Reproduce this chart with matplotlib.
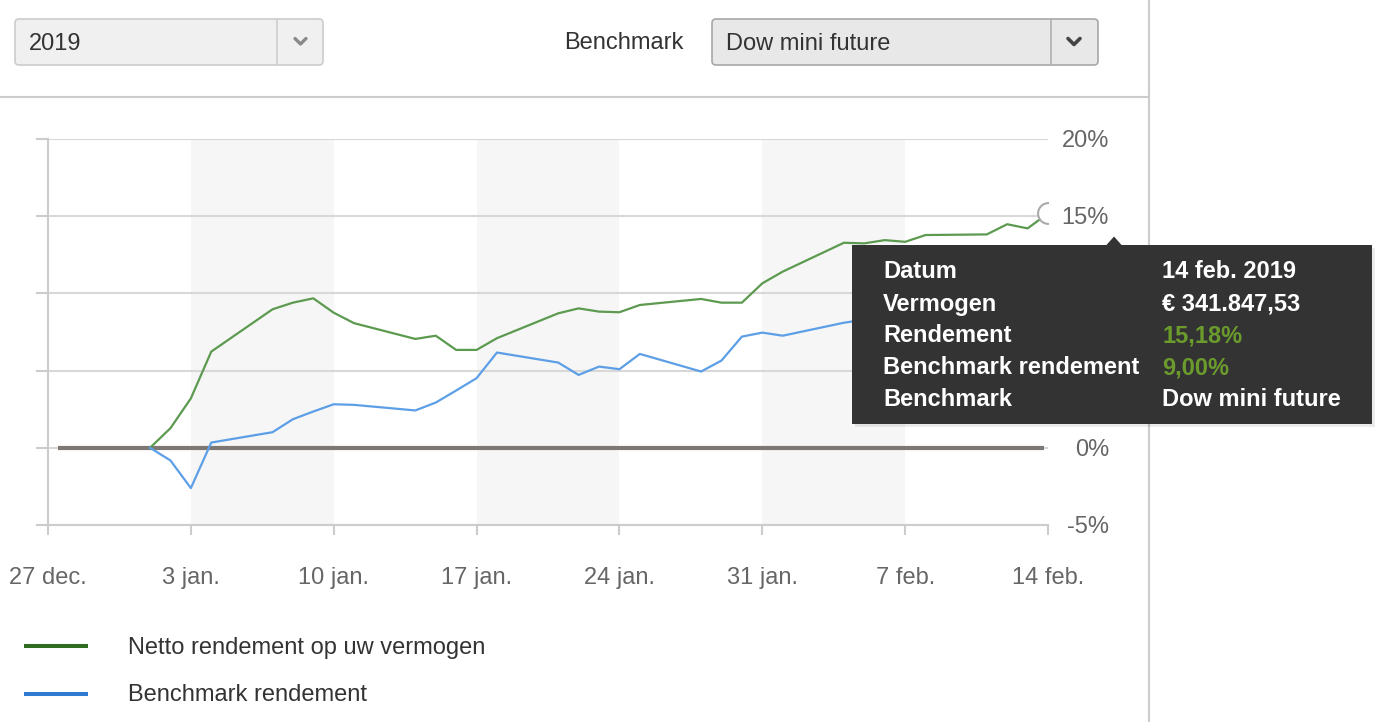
import matplotlib
matplotlib.use("Agg")
import matplotlib.pyplot as plt
import matplotlib.dates as mdates
import matplotlib.transforms as mtransforms
from matplotlib.patches import FancyBboxPatch, Rectangle, Polygon
import numpy as np

plt.rcParams['font.family'] = ['Liberation Sans', 'DejaVu Sans']

# ---------------- data ----------------
dates = ["2019-01-01", "2019-01-02", "2019-01-03", "2019-01-04", "2019-01-07", "2019-01-08",
         "2019-01-09", "2019-01-10", "2019-01-11", "2019-01-14", "2019-01-15", "2019-01-16",
         "2019-01-17", "2019-01-18", "2019-01-21", "2019-01-22", "2019-01-23", "2019-01-24",
         "2019-01-25", "2019-01-28", "2019-01-29", "2019-01-30", "2019-01-31", "2019-02-01",
         "2019-02-04", "2019-02-05", "2019-02-06", "2019-02-07", "2019-02-08", "2019-02-11",
         "2019-02-12", "2019-02-13", "2019-02-14"]
netto_rendement = [0.0, 1.27, 3.2, 6.23, 8.97, 9.40,
                   9.68, 8.75, 8.07, 7.05, 7.26, 6.34,
                   6.34, 7.10, 8.71, 9.03, 8.82, 8.78,
                   9.25, 9.64, 9.40, 9.40, 10.65, 11.41,
                   13.28, 13.24, 13.45, 13.34, 13.78, 13.82,
                   14.48, 14.21, 15.18]
benchmark_rendement = [0.0, -0.82, -2.61, 0.34, 1.01, 1.85,
                       2.35, 2.82, 2.78, 2.42, 2.93, 3.71,
                       4.51, 6.17, 5.52, 4.72, 5.26, 5.09,
                       6.08, 4.94, 5.65, 7.20, 7.46, 7.26,
                       8.10, 8.30, 8.50, 8.40, 8.20, 8.40,
                       8.80, 8.70, 9.00]

x_tick_dates = ["2018-12-27", "2019-01-03", "2019-01-10", "2019-01-17",
                "2019-01-24", "2019-01-31", "2019-02-07", "2019-02-14"]
x_tick_labels = ["27 dec.", "3 jan.", "10 jan.", "17 jan.", "24 jan.", "31 jan.", "7 feb.", "14 feb."]
y_ticks = [-5, 0, 5, 10, 15, 20]
y_tick_labels = ["-5%", "0%", "5%", "10%", "15%", "20%"]
band_starts = ["2019-01-03", "2019-01-17", "2019-01-31"]
band_ends = ["2019-01-10", "2019-01-24", "2019-02-07"]
baseline_range = ["2018-12-27 12:00", "2019-02-13 19:00"]

legend_labels = ["Netto rendement op uw vermogen", "Benchmark rendement"]
tooltip_labels = ["Datum", "Vermogen", "Rendement", "Benchmark rendement", "Benchmark"]
tooltip_values = ["14 feb. 2019", "\u20ac 341.847,53", "15,18%", "9,00%", "Dow mini future"]
year_choice = "2019"
benchmark_choice = "Dow mini future"

# ---------------- colours ----------------
C_GREEN = "#5c9a50"
C_BLUE = "#5d9fe6"
C_LEG_GREEN = "#2f6b20"
C_LEG_BLUE = "#2f7bd2"
C_GRID = "#d8d8d8"
C_AXIS = "#cccccc"
C_LABEL = "#666666"
C_TEXT = "#333333"
C_VAL_GREEN = "#6b9b2c"

W, H = 1386, 722
FS = 17

def d(s):
    return mdates.date2num(np.datetime64(s))

xd = [d(s) for s in dates]

fig = plt.figure(figsize=(W / 100, H / 100), dpi=100)
fig.patch.set_facecolor("white")

# UI layer (pixel coordinates)
ui = fig.add_axes([0, 0, 1, 1], zorder=0)
ui.set_xlim(0, W)
ui.set_ylim(H, 0)
ui.axis("off")

# chart axes
left, right, top, bottom = 48, 1048, 139, 525
ax = fig.add_axes([left / W, (H - bottom) / H, (right - left) / W, (bottom - top) / H], zorder=1)
ax.patch.set_visible(False)
ax.set_xlim(d(x_tick_dates[0]), d(x_tick_dates[-1]))
ax.set_ylim(-5, 20)

for s, e in zip(band_starts, band_ends):
    ax.axvspan(d(s), d(e), color="#f6f6f6", zorder=0, lw=0)

ax.set_yticks(y_ticks)
ax.grid(axis="y", color=C_GRID, lw=1.5, zorder=1)
ax.set_axisbelow(True)

for sp in ["top", "right"]:
    ax.spines[sp].set_visible(False)
for sp in ["left", "bottom"]:
    ax.spines[sp].set_color(C_AXIS)
    ax.spines[sp].set_linewidth(1.5)

ax.tick_params(axis="y", left=True, right=False, labelleft=False, labelright=False,
               length=8.6, width=1.5, color=C_AXIS, direction="out")
ax.set_xticks([d(s) for s in x_tick_dates])
ax.set_xticklabels(x_tick_labels)
ax.tick_params(axis="x", length=7.5, width=1.5, color=C_AXIS, direction="out",
               labelsize=FS, labelcolor=C_LABEL, pad=22.5)

# tooltip box extent (pixels)
TT_X, TT_Y, TT_W, TT_H = 852, 245, 520, 179

# y labels on the right, right aligned (those under the tooltip are hidden by it)
ytrans = mtransforms.blended_transform_factory(fig.transFigure, ax.transData)
ytrans = ytrans + mtransforms.ScaledTranslation(0, -2 / 100, fig.dpi_scale_trans)
for v, lab in zip(y_ticks, y_tick_labels):
    ypix = H - ax.transData.transform((0, v))[1]
    if TT_Y - 5 < ypix < TT_Y + TT_H + 5:
        continue
    ax.text(1109 / W, v, lab, transform=ytrans, ha="right", va="center",
            fontsize=FS, color=C_LABEL, clip_on=False)

# zero baseline
ax.plot([d(baseline_range[0]), d(baseline_range[1])], [0, 0], color="#7d7874", lw=3.0,
        solid_capstyle="butt", zorder=2)

# series
ax.plot(xd, netto_rendement, color=C_GREEN, lw=1.6, zorder=3)
ax.plot(xd, benchmark_rendement, color=C_BLUE, lw=1.6, zorder=3)

# hover marker on last point
ax.plot([xd[-1]], [netto_rendement[-1]], "o", ms=15, mfc="white", mec="#aaaaaa", mew=1.5,
        zorder=4, clip_on=True)

# ---------------- UI elements ----------------
ui.plot([0, 1148], [97, 97], color=C_AXIS, lw=1.5)
ui.plot([1149, 1149], [0, H], color=C_AXIS, lw=1.5)

# dropdown 1
ui.add_patch(FancyBboxPatch((15, 19), 308, 46, boxstyle="round,pad=0,rounding_size=4",
                            fc="#f0f0f0", ec="#cccccc", lw=1.2))
ui.plot([277, 277], [19, 65], color="#cccccc", lw=1.2)
ui.plot([295, 300.5, 306], [38.5, 44, 38.5], color="#8a8a8a", lw=2.4, solid_capstyle="round")
ui.text(29, 44, year_choice, fontsize=FS, color=C_TEXT, va="center", ha="left")

ui.text(564, 43, "Benchmark", fontsize=FS, color=C_TEXT, va="center", ha="left")

# dropdown 2
ui.add_patch(FancyBboxPatch((712, 19), 386, 46, boxstyle="round,pad=0,rounding_size=4",
                            fc="#e8e8e8", ec="#a8a8a8", lw=1.2))
ui.plot([1051, 1051], [19, 65], color="#b0b0b0", lw=1.2)
ui.plot([1068, 1074, 1080], [38.5, 44.5, 38.5], color="#444444", lw=2.6, solid_capstyle="round")
ui.text(726, 44, benchmark_choice, fontsize=FS, color=C_TEXT, va="center", ha="left")

# legend
ui.plot([24, 88], [646, 646], color=C_LEG_GREEN, lw=2.9, solid_capstyle="butt")
ui.plot([24, 88], [694, 694], color=C_LEG_BLUE, lw=2.9, solid_capstyle="butt")
ui.text(128, 648, legend_labels[0], fontsize=FS, color=C_TEXT, va="center", ha="left")
ui.text(128, 695, legend_labels[1], fontsize=FS, color=C_TEXT, va="center", ha="left")

# tooltip layer
tt = fig.add_axes([0, 0, 1, 1], zorder=5)
tt.set_xlim(0, W)
tt.set_ylim(H, 0)
tt.axis("off")
tt.add_patch(Rectangle((TT_X + 3, TT_Y + 3), TT_W, TT_H, fc="black", alpha=0.08, lw=0))
tt.add_patch(Rectangle((TT_X, TT_Y), TT_W, TT_H, fc="#333333", lw=0))
tt.add_patch(Polygon([(1106, 245.5), (1114, 236.5), (1122, 245.5)], closed=True, fc="#333333", lw=0))
row_y = [272, 304, 336, 368, 399.5]
val_colors = ["white", "white", C_VAL_GREEN, C_VAL_GREEN, "white"]
for yy, lab, val, vc in zip(row_y, tooltip_labels, tooltip_values, val_colors):
    tt.text(883, yy, lab, fontsize=FS, fontweight="bold", color="white", va="center", ha="left")
    tt.text(1162, yy, val, fontsize=FS, fontweight="bold", color=vc, va="center", ha="left")

fig.savefig("out.png", dpi=100)
